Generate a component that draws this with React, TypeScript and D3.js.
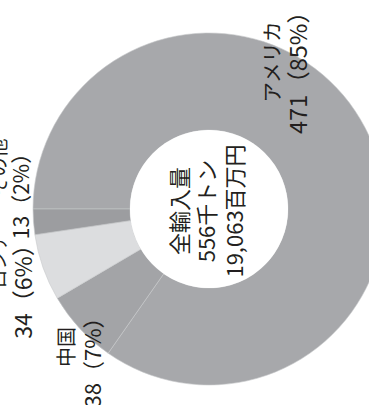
import React from "react";
import * as d3 from "d3";

const categories = ["アメリカ", "中国", "ロシア", "その他"];
const values = [471, 38, 34, 13];
const percents = [85, 7, 6, 2];
const sliceColors = ["#a7a8ab", "#a3a4a7", "#dcdddf", "#9c9da0"];
const centerLines = ["全輸入量", "556千トン", "19,063百万円"];
// label line centers (screen coordinates) and sizes
const nameX = [271, 65, -3, -3];
const nameY = [62, 347, 260, 167];
const nameSize = [20.5, 20, 19, 19];
const valueX = [297, 91, 22, 20];
const valueY = [67, 357, 286, 191];
const valueSize = [23.5, 22, 23, 21];

const W = 369;
const H = 405;
const CX = 209;
const CY = 209;
const R_OUT = 176;
const R_IN = 79;
const FONT = "'Noto Sans CJK JP', 'Noto Sans', sans-serif";
const TEXT = "#231f20";

export default function App() {
  const pie = d3
    .pie<number>()
    .value((d) => d)
    .sort(null)
    .startAngle(-Math.PI / 2)
    .endAngle((3 * Math.PI) / 2);
  const arcs = pie(values);
  const arc = d3.arc<d3.PieArcDatum<number>>().innerRadius(R_IN).outerRadius(R_OUT);

  return (
    <svg
      width={W}
      height={H}
      style={{ position: "absolute", left: 0, top: 0, background: "#fff" }}
      fontFamily={FONT}
      fontWeight={400}
    >
      <g transform={`translate(${CX},${CY})`}>
        {arcs.map((a, i) => (
          <path
            key={i}
            d={arc(a) || ""}
            fill={sliceColors[i]}
            stroke="#c8c9cb"
            strokeWidth={0.6}
          />
        ))}
        <circle r={R_IN} fill="#fff" />
      </g>
      <g transform={`translate(${205},${211}) rotate(-90)`} fill={TEXT}>
        {centerLines.map((t, i) => (
          <text
            key={i}
            x={0}
            y={(i - 1) * 27.5}
            textAnchor="middle"
            dominantBaseline="central"
            fontSize={22}
          >
            {t}
          </text>
        ))}
      </g>
      {categories.map((c, i) => (
        <g key={c} fill={TEXT}>
          <text
            transform={`translate(${nameX[i]},${nameY[i]}) rotate(-90)`}
            textAnchor="middle"
            dominantBaseline="central"
            fontSize={nameSize[i]}
          >
            {c}
          </text>
          <text
            transform={`translate(${valueX[i]},${valueY[i]}) rotate(-90)`}
            textAnchor="middle"
            dominantBaseline="central"
            fontSize={valueSize[i]}
          >
            {`${values[i]}（${percents[i]}%）`}
          </text>
        </g>
      ))}
    </svg>
  );
}
